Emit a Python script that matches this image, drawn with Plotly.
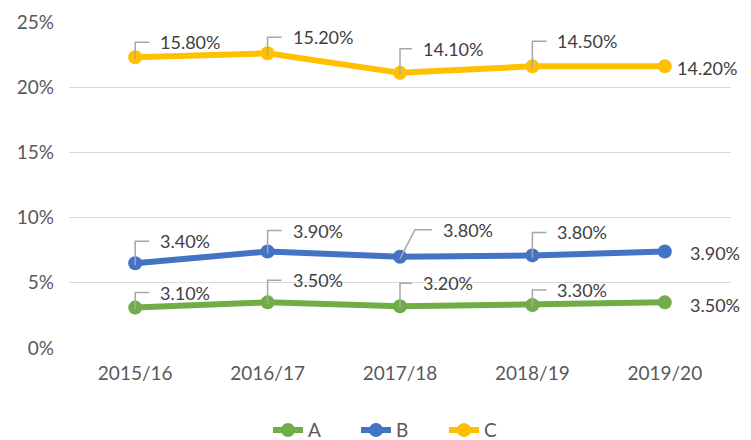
import numpy as np
import plotly.graph_objects as go

# Categories and series values (individual shares, lines are stacked)
years = ["2015/16", "2016/17", "2017/18", "2018/19", "2019/20"]
series_names = ["A", "B", "C"]
a_values = [3.1, 3.5, 3.2, 3.3, 3.5]
b_values = [3.4, 3.9, 3.8, 3.8, 3.9]
c_values = [15.8, 15.2, 14.1, 14.5, 14.2]

colors = {"A": "#70AD47", "B": "#4472C4", "C": "#FFC000"}
font_family = "Lato, 'Open Sans', sans-serif"
text_grey = "#404040"
leader_grey = "#A6A6A6"

# Label placement (pixel offsets of label left edge / middle from the point)
label_dx = {
    "A": [23, 23, 21, 23, 23],
    "B": [23, 23, 41, 23, 23],
    "C": [23, 23, 21, 23, 10],
}
label_dy = {
    "A": [-15, -22, -23, -15, 3],
    "B": [-22, -21, -27, -23, 1],
    "C": [-15, -16, -24, -25, 2],
}
# x of the leader elbow (0 = straight up); None = no leader line
leader_elbow = {
    "A": [0, 0, 0, 0, None],
    "B": [0, 0, 15, 0, None],
    "C": [0, 0, 0, 0, None],
}

values = {"A": a_values, "B": b_values, "C": c_values}
stacked = np.cumsum(np.array([a_values, b_values, c_values]), axis=0)

fig = go.Figure()
annotations = []
shapes = []

for i, name in enumerate(series_names):
    fig.add_trace(go.Scatter(
        x=years,
        y=stacked[i],
        name=name,
        mode="lines+markers",
        line=dict(color=colors[name], width=6),
        marker=dict(color=colors[name], size=14),
        cliponaxis=False,
        hovertemplate="%{x}: " + name + "<extra></extra>",
    ))

    for j, year in enumerate(years):
        dx = label_dx[name][j]
        dy = label_dy[name][j]
        annotations.append(dict(
            x=year, y=stacked[i][j],
            text="{:.2f}%".format(values[name][j]),
            showarrow=False,
            xanchor="left", yanchor="middle",
            xshift=dx, yshift=-dy,
            font=dict(family=font_family, size=18, color=text_grey),
        ))
        elbow = leader_elbow[name][j]
        if elbow is not None:
            shapes.append(dict(
                type="path",
                xref="x", yref="y",
                xsizemode="pixel", ysizemode="pixel",
                xanchor=year, yanchor=stacked[i][j],
                path="M0,-2 L{},{} L{},{}".format(elbow, -dy, dx - 9, -dy),
                line=dict(color=leader_grey, width=1.5),
            ))

# page body has an 8px margin, so the figure is sized to fit inside it
fig.update_layout(
    width=743,
    height=432,
    margin=dict(l=61, r=20, t=14, b=92, autoexpand=False),
    plot_bgcolor="white",
    paper_bgcolor="white",
    font=dict(family=font_family, size=19, color="#595959"),
    annotations=annotations,
    shapes=shapes,
    showlegend=True,
    legend=dict(
        orientation="h",
        x=0.5, y=-0.252,
        xanchor="center", yanchor="middle",
        entrywidth=43,
        font=dict(family=font_family, size=19, color="#595959"),
    ),
)

fig.update_xaxes(
    type="category",
    range=[-0.5, 4.5],
    showgrid=False,
    showline=False,
    ticks="",
    ticklabelstandoff=12,
    tickfont=dict(family=font_family, size=19, color="#595959"),
)

fig.update_yaxes(
    range=[0, 25],
    dtick=5,
    ticksuffix="%",
    showgrid=True,
    gridcolor="#D9D9D9",
    gridwidth=1.3,
    zeroline=False,
    showline=False,
    ticks="",
    ticklabelstandoff=14,
    tickfont=dict(family=font_family, size=19, color="#595959"),
)

fig.write_html("out.html")
